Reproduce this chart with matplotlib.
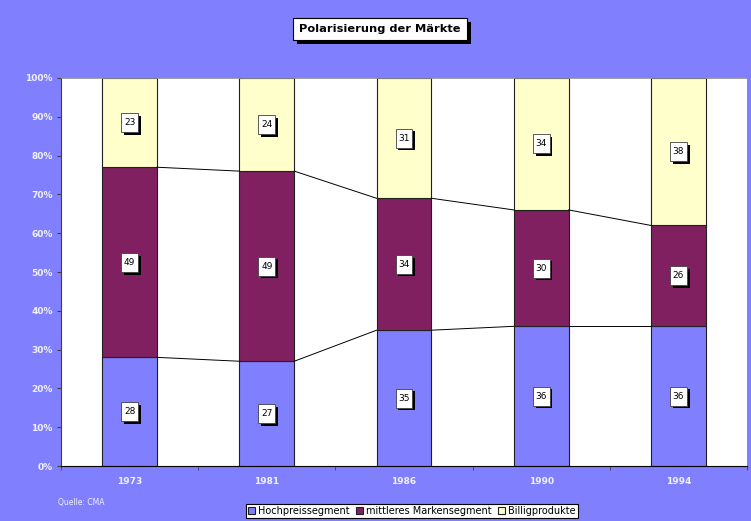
import matplotlib.pyplot as plt
import matplotlib.patheffects as pe
from matplotlib.path import Path
import numpy as np

years = ['1973', '1981', '1986', '1990', '1994']
hoch = [28, 27, 35, 36, 36]
mittel = [49, 49, 34, 30, 26]
billig = [23, 24, 31, 34, 38]
names = ['Hochpreissegment', 'mittleres Markensegment', 'Billigprodukte']
colors = ['#8080FF', '#802060', '#FFFFCC']


def tall_box(x0, y0, width, height, mutation_size):
    # label box with more room above and below than at the sides
    px, py = 0.3 * mutation_size, 0.55 * mutation_size
    l, r = x0 - px, x0 + width + px
    b, t = y0 - py, y0 + height + py
    return Path([(l, b), (r, b), (r, t), (l, t), (l, b)], closed=True)


bg = '#8080FF'
fig = plt.figure(figsize=(7.51, 5.21), dpi=100, facecolor=bg)
ax = fig.add_axes([61 / 751, 55 / 521, 686 / 751, 388 / 521])
ax.set_facecolor('white')

x = np.arange(len(years))
w = 0.40
series = [hoch, mittel, billig]
bottom = np.zeros(len(years))
shadow = [pe.withSimplePatchShadow(offset=(2, -2), shadow_rgbFace='black', alpha=1)]
for vals, c, n in zip(series, colors, names):
    vals = np.array(vals)
    ax.bar(x, vals, w, bottom=bottom, color=c, edgecolor='#202020', linewidth=0.8, label=n)
    for xi, b, v in zip(x, bottom, vals):
        t = ax.text(xi, b + v / 2, str(v), ha='center', va='center', fontsize=6.5,
                    bbox=dict(boxstyle=tall_box, fc='white', ec='#404040', lw=0.6))
        t.get_bbox_patch().set_path_effects(shadow)
    bottom = bottom + vals

# series lines between bars
for level in [np.array(hoch), np.array(hoch) + np.array(mittel)]:
    for i in range(len(years) - 1):
        ax.plot([x[i] + w / 2, x[i + 1] - w / 2], [level[i], level[i + 1]],
                color='black', lw=0.7, zorder=1)

ax.set_xlim(-0.5, len(years) - 0.5)
ax.set_ylim(0, 100)
ax.set_yticks(range(0, 101, 10))
ax.set_yticklabels([f'{v}%' for v in range(0, 101, 10)])
ax.set_xticks(x)
ax.set_xticklabels(years)
ax.set_xticks(np.arange(-0.5, len(years)), minor=True)
ax.tick_params(axis='x', which='major', length=0, pad=8)
ax.tick_params(axis='x', which='minor', length=3, color='#404040')
ax.tick_params(axis='y', length=3, color='#404040', pad=3)
for lab in ax.get_xticklabels() + ax.get_yticklabels():
    lab.set_color('#F0F0FF')
    lab.set_fontweight('bold')
    lab.set_fontsize(6.5)
for s in ['top', 'right']:
    ax.spines[s].set_color('#909090')
    ax.spines[s].set_linewidth(0.6)
ax.spines['left'].set_color('#404040')
ax.spines['bottom'].set_color('black')

title = fig.text(380 / 751, 1 - 29 / 521, 'Polarisierung der Märkte', ha='center', va='center',
                 fontsize=8.2, fontweight='bold',
                 bbox=dict(boxstyle='square,pad=0.55', fc='white', ec='black', lw=0.8))
title.get_bbox_patch().set_path_effects([pe.withSimplePatchShadow(offset=(3, -3), shadow_rgbFace='black', alpha=1)])

fig.text(58 / 751, 1 - 502 / 521, 'Quelle: CMA', ha='left', va='center', fontsize=5.5, color='#F0F0FF')

leg = fig.legend(loc='center', bbox_to_anchor=(412 / 751, 1 - 511 / 521), ncol=3, fontsize=7,
                 frameon=True, fancybox=False, edgecolor='black', framealpha=1,
                 handlelength=0.7, handleheight=0.7, handletextpad=0.3, columnspacing=0.7,
                 borderpad=0.2, borderaxespad=0)
leg.get_frame().set_linewidth(0.8)

fig.savefig('out.png', dpi=100, facecolor=bg)
